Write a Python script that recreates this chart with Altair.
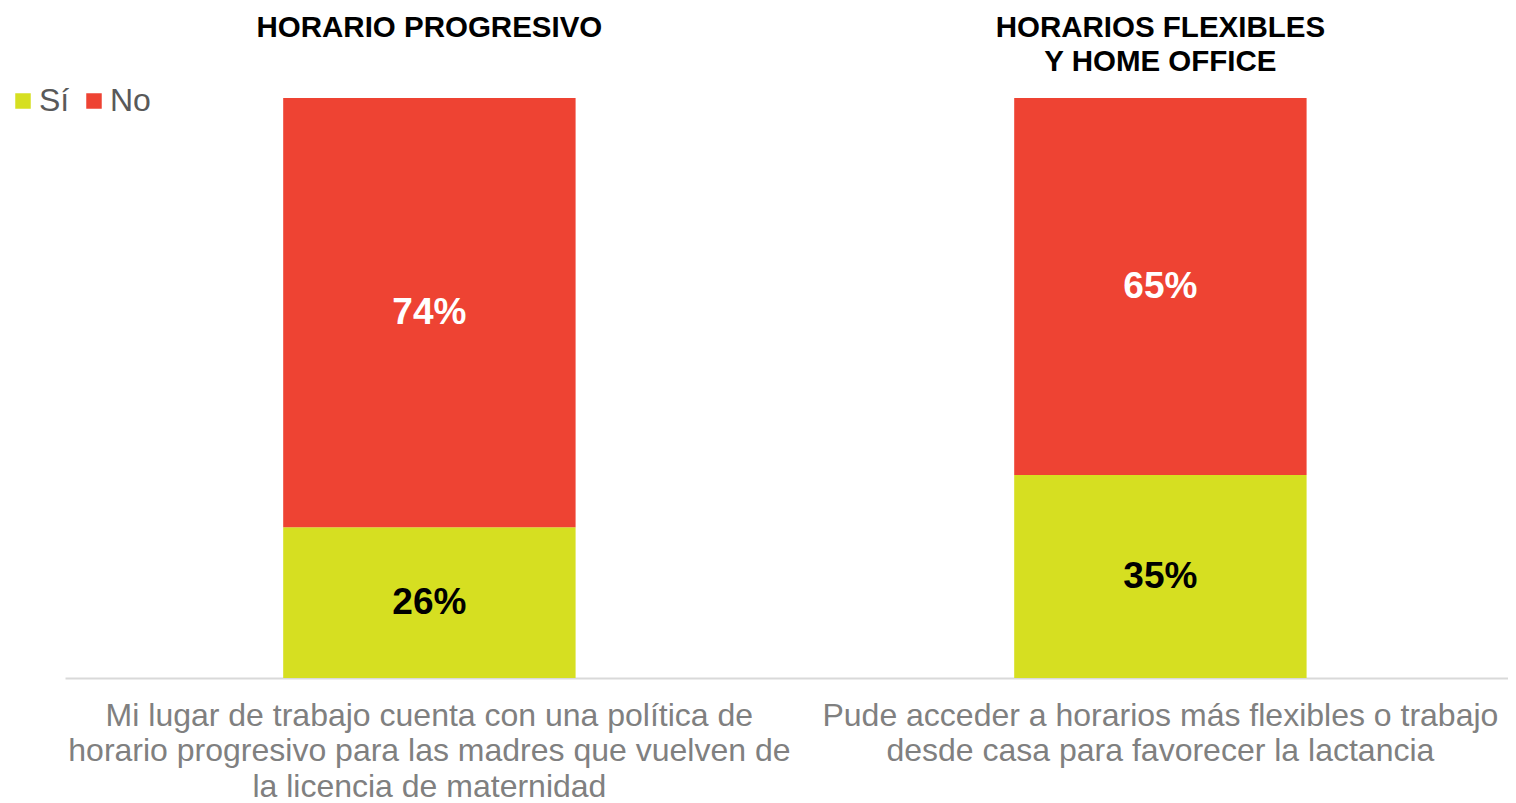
import altair as alt
import pandas as pd

categories = [
    "Mi lugar de trabajo cuenta con una política de|horario progresivo para las madres que vuelven de|la licencia de maternidad",
    "Pude acceder a horarios más flexibles o trabajo|desde casa para favorecer la lactancia",
]
titles = ["HORARIO PROGRESIVO", "HORARIOS FLEXIBLES|Y HOME OFFICE"]
responses = ["Sí", "No"]
si_values = [26, 35]
no_values = [74, 65]

rows = []
for i, c in enumerate(categories):
    rows.append({"cat": c, "resp": responses[0], "order": 0, "value": si_values[i]})
    rows.append({"cat": c, "resp": responses[1], "order": 1, "value": no_values[i]})
df = pd.DataFrame(rows)
tdf = pd.DataFrame({"cat": categories, "title": titles})

FONT = "Liberation Sans"

xscale = alt.Scale(domain=categories, paddingInner=0.6, paddingOuter=0.287, align=0.52)
xaxis = alt.Axis(
    title=None, labelExpr="split(datum.label, '|')", labelAngle=0, labelFontSize=32,
    labelColor="#808080", labelFont=FONT, labelLineHeight=35.5, labelPadding=22,
    labelBaseline="top", labelLimit=0, labelOverlap=False, ticks=False,
    domainColor="#D9D9D9", domainWidth=2, grid=False,
)
x = alt.X("cat:N", scale=xscale, sort=categories, axis=xaxis)
yscale = alt.Scale(domain=[0, 100])

bars = alt.Chart(df).mark_bar().encode(
    x=x,
    y=alt.Y("value:Q", stack="zero", scale=yscale, axis=None),
    order=alt.Order("order:Q"),
    color=alt.Color(
        "resp:N",
        scale=alt.Scale(domain=responses, range=["#D6DF21", "#EE4333"]),
        legend=alt.Legend(
            title=None, orient="none", legendX=-58, legendY=-13, direction="horizontal",
            symbolType="square", symbolSize=240, labelFontSize=32, labelColor="#595959",
            labelFont=FONT, columnPadding=8, labelOffset=0, symbolStrokeWidth=0, padding=0,
        ),
    ),
)

labels = alt.Chart(df).transform_stack(
    stack="value", groupby=["cat"], sort=[alt.SortField("order")], as_=["y0", "y1"]
).transform_calculate(
    mid="(datum.y0 + datum.y1) / 2", label="datum.value + '%'"
).mark_text(fontSize=37, fontWeight="bold", font=FONT).encode(
    x=x,
    y=alt.Y("mid:Q", scale=yscale, axis=None),
    text="label:N",
    color=alt.condition(alt.datum.resp == "No", alt.value("white"), alt.value("black")),
)

heads = alt.Chart(tdf).mark_text(
    fontSize=29.5, fontWeight="bold", font=FONT, baseline="top", lineBreak="|",
    lineHeight=34, color="black",
).encode(x=x, y=alt.value(-84), text="title:N")

chart = alt.layer(bars, labels, heads).properties(
    width=1443, height=580,
    autosize=alt.AutoSizeParams(type="none"),
    padding={"left": 57, "top": 90, "right": 0, "bottom": 125},
).configure_view(stroke=None)

chart.save("out.html", embed_options={"renderer": "svg", "actions": False})
